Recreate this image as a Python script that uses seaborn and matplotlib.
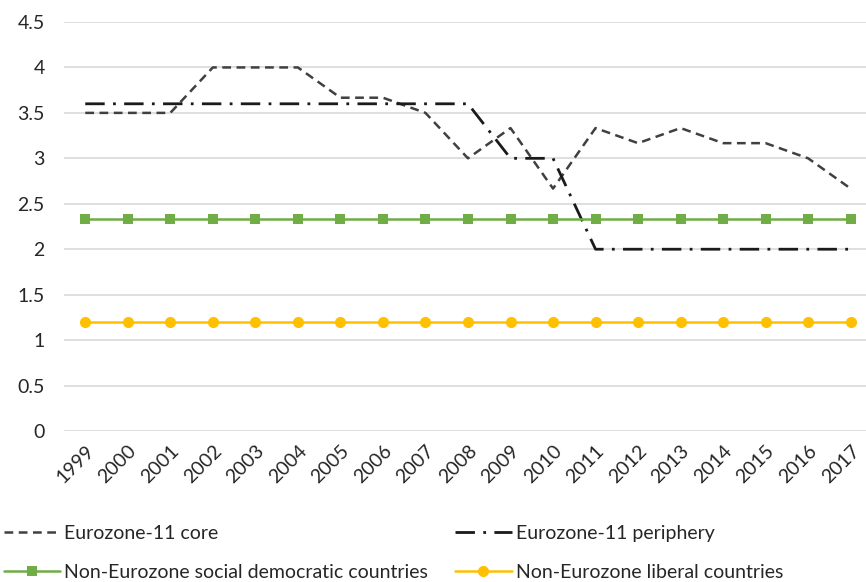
import pandas as pd
import matplotlib.pyplot as plt
import seaborn as sns

years = [str(y) for y in range(1999, 2018)]
core = [3.5, 3.5, 3.5, 4.0, 4.0, 4.0, 3.667, 3.667, 3.5, 3.0, 3.333, 2.667,
        3.333, 3.167, 3.333, 3.167, 3.167, 3.0, 2.667]
periphery = [3.6, 3.6, 3.6, 3.6, 3.6, 3.6, 3.6, 3.6, 3.6, 3.6, 3.0, 3.0,
             2.0, 2.0, 2.0, 2.0, 2.0, 2.0, 2.0]
social_dem = [2.333] * 19
liberal = [1.2] * 19

series_names = ['Eurozone-11 core', 'Eurozone-11 periphery',
                'Non-Eurozone social democratic countries', 'Non-Eurozone liberal countries']

df = pd.DataFrame({'year': years, series_names[0]: core, series_names[1]: periphery,
                   series_names[2]: social_dem, series_names[3]: liberal})
long = df.melt(id_vars='year', var_name='series', value_name='value')

sns.set_style('white')
plt.rcParams['font.family'] = ['Lato', 'DejaVu Sans']

fig = plt.figure(figsize=(8.66, 5.82), dpi=100)
ax = fig.add_axes([64 / 866, 1 - 431 / 582, 1 - 64 / 866, (431 - 22) / 582])

palette = {series_names[0]: '#404040', series_names[1]: '#1a1a1a',
           series_names[2]: '#70ad47', series_names[3]: '#ffc000'}
dashes = {series_names[0]: (3.5, 2.2), series_names[1]: (7, 3, 1, 3),
          series_names[2]: '', series_names[3]: ''}
markers = {series_names[0]: '', series_names[1]: '', series_names[2]: 's', series_names[3]: 'o'}

x_pos = {y: i for i, y in enumerate(years)}
long['x'] = long['year'].map(x_pos)

for name in series_names:
    sub = long[long.series == name]
    lw = 2.0 if name == series_names[1] else 1.8
    sns.lineplot(data=sub, x='x', y='value', ax=ax, color=palette[name],
                 linewidth=lw, label=name, marker=markers[name] if markers[name] else None,
                 markersize=8 if name == series_names[3] else 7.5, markeredgewidth=0)
    line = ax.get_lines()[-1]
    if dashes[name]:
        line.set_dashes(dashes[name])

ax.set_xlim(-0.5, 18.36)
ax.set_ylim(0, 4.5)
ax.set_yticks([0, 0.5, 1, 1.5, 2, 2.5, 3, 3.5, 4, 4.5])
ax.set_yticklabels(['0', '0.5', '1', '1.5', '2', '2.5', '3', '3.5', '4', '4.5'], fontsize=14)
ax.set_xticks(range(len(years)))
ax.set_xticklabels(years, rotation=45, ha='right', rotation_mode='anchor', fontsize=14)
ax.tick_params(axis='x', pad=8, length=0)
ax.tick_params(axis='y', pad=14, length=0)
ax.grid(axis='y', color='#d9d9d9', linewidth=1.2)
ax.set_axisbelow(True)
for s in ax.spines.values():
    s.set_visible(False)
ax.set_xlabel('')
ax.set_ylabel('')

handles, labels = ax.get_legend_handles_labels()
ax.get_legend().remove()
order = [0, 2, 1, 3]
fig.legend([handles[i] for i in order], [labels[i] for i in order],
           loc='upper left', bbox_to_anchor=(0.0, 1 - 521 / 582), ncol=2,
           frameon=False, fontsize=14, handlelength=2.9, handletextpad=0.2,
           columnspacing=1.4, labelspacing=1.15, borderaxespad=0, borderpad=0.2)

fig.savefig('out.png', dpi=100)
